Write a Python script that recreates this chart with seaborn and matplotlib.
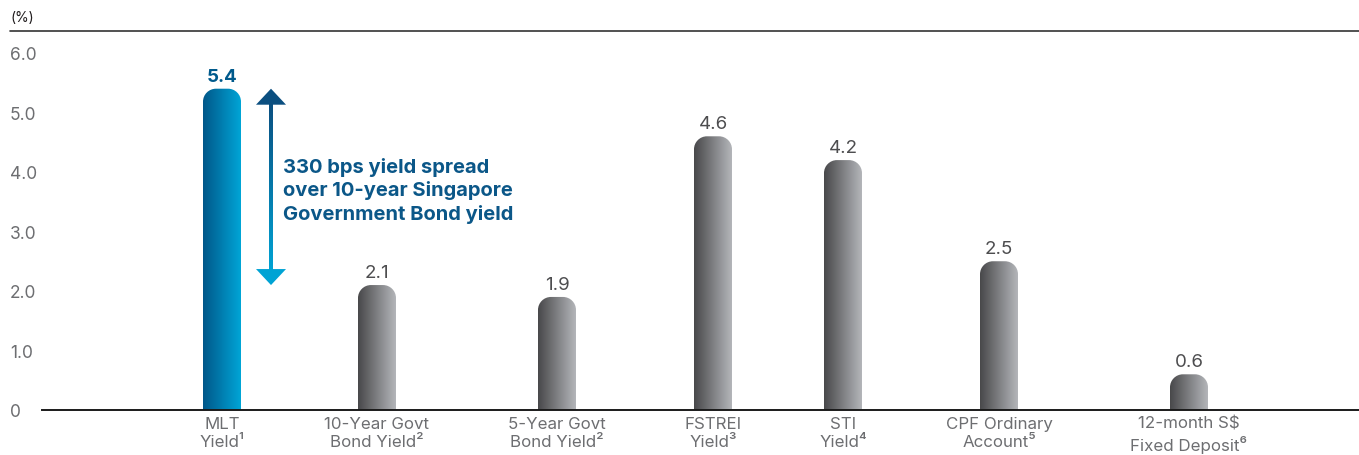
import numpy as np
import matplotlib
matplotlib.use("Agg")
import matplotlib.pyplot as plt
import seaborn as sns
from matplotlib.path import Path
from matplotlib.patches import PathPatch, Polygon
from matplotlib.colors import LinearSegmentedColormap

# ---- data ----
categories = ["MLT\nYield¹", "10-Year Govt\nBond Yield²", "5-Year Govt\nBond Yield²",
              "FSTREI\nYield³", "STI\nYield⁴", "CPF Ordinary\nAccount⁵",
              "12-month S$\nFixed Deposit⁶"]
values = [5.4, 2.1, 1.9, 4.6, 4.2, 2.5, 0.6]
value_labels = ["5.4", "2.1", "1.9", "4.6", "4.2", "2.5", "0.6"]
yticks = [0, 1, 2, 3, 4, 5, 6]
ytick_labels = ["0", "1.0", "2.0", "3.0", "4.0", "5.0", "6.0"]
annotation = "330 bps yield spread\nover 10-year Singapore\nGovernment Bond yield"

# ---- layout (pixel-based horizontal placement) ----
xpos = [222, 377, 557, 713, 843, 999, 1189]
W, H = 1359, 456
PX_PER_UNIT = 59.5

sns.set_theme(style="white")
plt.rcParams['font.family'] = ['Inter', 'DejaVu Sans']

fig = plt.figure(figsize=(W / 100, H / 100), dpi=100)
ax = fig.add_axes([42 / W, (H - 411) / H, (W - 42) / W, (411 - 32) / H])

sns.barplot(x=xpos, y=values, native_scale=True, width=38 / 130,
            color="#888888", ax=ax, errorbar=None)

ax.set_xlim(42, W)
ax.set_ylim(0, (411 - 32) / PX_PER_UNIT)

for s in ["top", "right", "left"]:
    ax.spines[s].set_visible(False)
ax.spines["bottom"].set_color("#1a1a1a")
ax.spines["bottom"].set_linewidth(1.4)

grey = "#6d6e71"
blue_dark = "#005a8c"
blue_light = "#00a3d4"

cmap_blue = LinearSegmentedColormap.from_list("b", ["#00578a", "#00a5d6"])
cmap_grey = LinearSegmentedColormap.from_list("g", ["#48484a", "#b4b6ba"])

rx = 13.0                 # px (x data unit == px)
ry = 13.0 / PX_PER_UNIT   # in y data units
k = 0.5523

bars = sorted(ax.patches, key=lambda p: p.get_x())
for i, p in enumerate(bars):
    x0 = p.get_x()
    w = p.get_width()
    h = p.get_height()
    x1 = x0 + w
    p.set_visible(False)
    verts = [(x0, 0), (x0, h - ry),
             (x0, h - ry + k * ry), (x0 + rx - k * rx, h), (x0 + rx, h),
             (x1 - rx, h),
             (x1 - rx + k * rx, h), (x1, h - ry + k * ry), (x1, h - ry),
             (x1, 0), (x0, 0)]
    codes = [Path.MOVETO, Path.LINETO,
             Path.CURVE4, Path.CURVE4, Path.CURVE4,
             Path.LINETO,
             Path.CURVE4, Path.CURVE4, Path.CURVE4,
             Path.LINETO, Path.CLOSEPOLY]
    clip = PathPatch(Path(verts, codes), facecolor="none", edgecolor="none",
                     transform=ax.transData)
    ax.add_patch(clip)
    grad = np.linspace(0, 1, 256).reshape(1, -1)
    im = ax.imshow(grad, aspect="auto", extent=[x0, x1, 0, h],
                   cmap=cmap_blue if i == 0 else cmap_grey, zorder=2,
                   interpolation="bilinear")
    im.set_clip_path(clip)
    ax.annotate(value_labels[i], xy=(x0 + w / 2, h), xytext=(0, 3),
                textcoords="offset points", ha="center", va="bottom",
                fontsize=13.5, color=blue_dark if i == 0 else "#4d4d4f",
                fontweight="bold" if i == 0 else "normal")

ax.set_xlim(42, W)
ax.set_ylim(0, (411 - 32) / PX_PER_UNIT)

# ticks
ax.set_xticks(xpos)
ax.set_xticklabels(categories, fontsize=12.2, color=grey, linespacing=1.3)
ax.tick_params(axis="x", length=0, pad=4)
ax.set_yticks(yticks)
ax.set_yticklabels(ytick_labels, fontsize=12.5, color=grey)
ax.tick_params(axis="y", length=0, pad=32 * 0.72)
for t in ax.get_yticklabels():
    t.set_horizontalalignment("left")

# spread arrow between MLT yield and 10-year govt bond yield
ax_x = 271
top, bot = values[0], values[1]
head_h = 16 / PX_PER_UNIT
head_w = 15
shaft_w = 2.0
cm_arrow = LinearSegmentedColormap.from_list("a", [blue_light, "#0b4f80"])
vgrad = np.linspace(0, 1, 256).reshape(-1, 1)
ax.imshow(vgrad, aspect="auto", origin="lower",
          extent=[ax_x - shaft_w, ax_x + shaft_w, bot + head_h * 0.9, top - head_h * 0.9],
          cmap=cm_arrow, zorder=3, interpolation="bilinear")
ax.add_patch(Polygon([(ax_x - head_w, top - head_h), (ax_x + head_w, top - head_h),
                      (ax_x, top)], closed=True, facecolor="#0b4f80",
                     edgecolor="none", zorder=4))
ax.add_patch(Polygon([(ax_x - head_w, bot + head_h), (ax_x + head_w, bot + head_h),
                      (ax_x, bot)], closed=True, facecolor=blue_light,
                     edgecolor="none", zorder=4))

ax.set_xlim(42, W)
ax.set_ylim(0, (411 - 32) / PX_PER_UNIT)

ax.text(283, (411 - 191) / PX_PER_UNIT, annotation, ha="left", va="center",
        fontsize=14.5, fontweight="bold", color="#0b5788", linespacing=1.3)

# unit label and top rule
fig.text(10 / W, 1 - 18 / H, "(%)", ha="left", va="center", fontsize=10,
         color="#231f20")
fig.add_artist(plt.Line2D([10 / W, 1], [1 - 32 / H, 1 - 32 / H],
                          color="#333333", linewidth=1.2))

fig.savefig("out.png", dpi=100)
